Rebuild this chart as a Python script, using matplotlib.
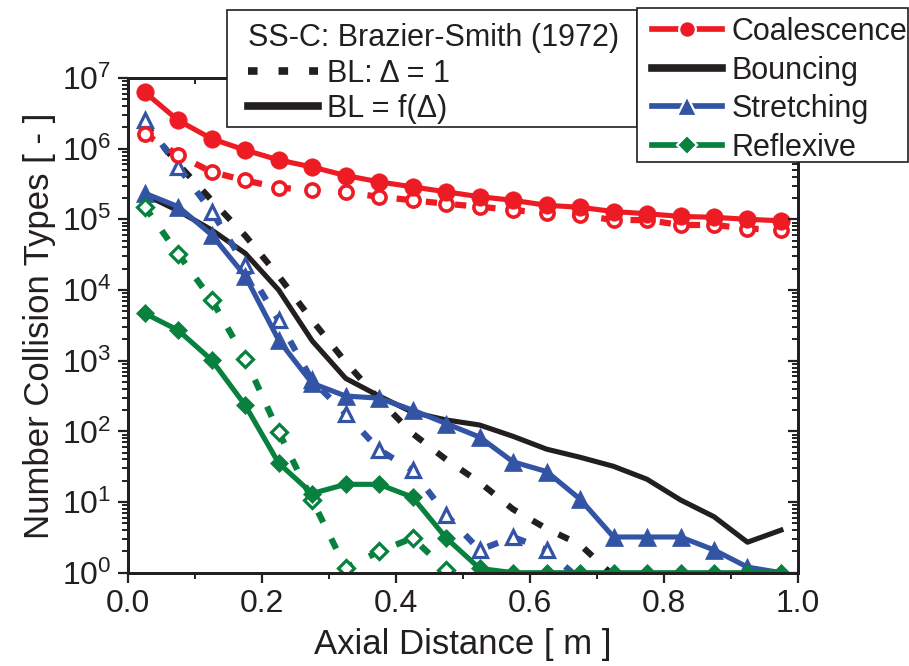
import numpy as np
import matplotlib
matplotlib.use("Agg")
import matplotlib.pyplot as plt
from matplotlib.lines import Line2D
from matplotlib.patches import Rectangle
from matplotlib.ticker import MultipleLocator, LogLocator, NullFormatter, LogFormatterSciNotation

plt.rcParams['font.family'] = ['Liberation Sans', 'DejaVu Sans']
plt.rcParams['mathtext.fontset'] = 'custom'
plt.rcParams['mathtext.rm'] = 'Liberation Sans'
plt.rcParams['mathtext.it'] = 'Liberation Sans:italic'
plt.rcParams['mathtext.default'] = 'regular'

# ---------------- data ----------------
axial_distance = [0.025, 0.075, 0.125, 0.175, 0.225, 0.275, 0.325, 0.375, 0.425, 0.475,
                  0.525, 0.575, 0.625, 0.675, 0.725, 0.775, 0.825, 0.875, 0.925, 0.975]

# BL = f(Delta)  (solid lines, filled markers)
coalescence_f = [6.31e6, 2.51e6, 1.38e6, 9.55e5, 6.92e5, 5.50e5, 4.17e5, 3.39e5, 2.88e5, 2.45e5,
                 2.09e5, 1.86e5, 1.58e5, 1.48e5, 1.29e5, 1.20e5, 1.10e5, 1.07e5, 1.00e5, 9.55e4]
bouncing_f = [2.24e5, 1.32e5, 7.08e4, 3.31e4, 1.00e4, 1.91e3, 562, 316, 186, 145,
              123, 85, 56, 43, 32, 21, 10.7, 6.2, 2.7, 4.0]
stretching_f = [2.34e5, 1.51e5, 6.03e4, 1.58e4, 1.95e3, 479, 316, 295, 200, 129,
                83, 37, 27, 11, 3.2, 3.2, 3.2, 2.1, 1.2, 1.0]
reflexive_f = [4.68e3, 2.69e3, 1.02e3, 234, 35.5, 13.2, 17.8, 17.8, 11.7, 3.1,
               1.15, 1.0, 1.0, 1.0, 1.0, 1.0, 1.0, 1.0, 1.0, 1.0]

# BL: Delta = 1  (dashed lines, open markers); nan = below the axis range
coalescence_1 = [1.62e6, 8.13e5, 4.68e5, 3.55e5, 2.82e5, 2.57e5, 2.40e5, 2.09e5, 1.86e5, 1.66e5,
                 1.51e5, 1.35e5, 1.23e5, 1.15e5, 9.77e4, 9.77e4, 8.32e4, 8.32e4, 7.41e4, 7.08e4]
bouncing_1 = [2.24e6, 6.03e5, 1.86e5, 5.89e4, 1.58e4, 3.72e3, 955, 282, 93, 40,
              19, 7.9, 4.2, 2.5, 0.9, np.nan, np.nan, np.nan, np.nan, np.nan]
stretching_1 = [2.51e6, 5.50e5, 1.29e5, 2.24e4, 3.72e3, 525, 178, 55, 28, 6.6,
                2.1, 3.2, 2.1, 0.8, np.nan, np.nan, np.nan, np.nan, np.nan, np.nan]
reflexive_1 = [1.51e5, 3.24e4, 7.24e3, 1.07e3, 98, 10.7, 1.17, 2.0, 3.1, 1.1,
               0.5, np.nan, np.nan, np.nan, np.nan, np.nan, np.nan, np.nan, np.nan, np.nan]

x_ticks = [0.0, 0.2, 0.4, 0.6, 0.8, 1.0]
x_tick_labels = ['0.0', '0.2', '0.4', '0.6', '0.8', '1.0']

legend1_title = 'SS-C: Brazier-Smith (1972)'
legend1_labels = ['BL: Δ = 1', 'BL = f(Δ)']
legend2_labels = ['Coalescence', 'Bouncing', 'Stretching', 'Reflexive']

# ---------------- style ----------------
RED = '#ED1C24'
BLACK = '#231F20'
BLUE = '#3354A5'
GREEN = '#08803E'
TXT = '#231F20'

W, H = 909, 666
fig = plt.figure(figsize=(W / 100, H / 100), dpi=100)
L, R, T, B = 128, 797.7, 78, 572.7
ax = fig.add_axes([L / W, 1 - B / H, (R - L) / W, (B - T) / H])

DASH = (0, (1.8, 2.9))
LW_SOLID = 3.7
LW_DASH = 4.5


def plot_pair(y_solid, y_dash, color, marker, ms_f, ms_o, mew_o):
    ax.plot(axial_distance, y_dash, color=color, lw=LW_DASH, linestyle=DASH,
            dash_capstyle='butt', marker=marker, ms=ms_o, mfc='white', mec=color,
            mew=mew_o)
    ax.plot(axial_distance, y_solid, color=color, lw=LW_SOLID, marker=marker,
            ms=ms_f, mfc=color, mec=color, mew=0.5)


ax.plot(axial_distance, bouncing_1, color=BLACK, lw=LW_DASH, linestyle=DASH,
        dash_capstyle='butt')
ax.plot(axial_distance, bouncing_f, color=BLACK, lw=LW_SOLID)
plot_pair(stretching_f, stretching_1, BLUE, '^', 12.5, 10.5, 2.3)
plot_pair(reflexive_f, reflexive_1, GREEN, 'D', 9.0, 8.3, 2.3)
plot_pair(coalescence_f, coalescence_1, RED, 'o', 12.5, 9.5, 2.6)

ax.set_yscale('log')
ax.set_xlim(0, 1.0)
ax.set_ylim(1, 1e7)
ax.set_xticks(x_ticks)
ax.set_xticklabels(x_tick_labels)
ax.xaxis.set_minor_locator(MultipleLocator(0.1))
ax.yaxis.set_major_locator(LogLocator(base=10, numticks=20))
ax.yaxis.set_minor_locator(LogLocator(base=10, subs=np.arange(2, 10), numticks=20))
ax.yaxis.set_minor_formatter(NullFormatter())
ax.yaxis.set_major_formatter(LogFormatterSciNotation())

for s in ax.spines.values():
    s.set_linewidth(2.0)
    s.set_color(TXT)
ax.tick_params(which='both', direction='out', top=False, right=False,
               colors=TXT, labelcolor=TXT, labelsize=23)
ax.tick_params(which='major', length=7, width=1.6, pad=5)
ax.tick_params(which='minor', length=4.5, width=1.4)

# mirrored inward ticks on top and right
axr = ax.twinx()
axr.set_yscale('log')
axr.set_ylim(1, 1e7)
axr.yaxis.set_major_locator(LogLocator(base=10, numticks=20))
axr.yaxis.set_minor_locator(LogLocator(base=10, subs=np.arange(2, 10), numticks=20))
axr.tick_params(which='both', direction='in', labelright=False, colors=TXT)
axr.tick_params(which='major', length=7, width=1.6)
axr.tick_params(which='minor', length=4.5, width=1.4)
axt = ax.twiny()
axt.set_xlim(0, 1.0)
axt.set_xticks(x_ticks)
axt.xaxis.set_minor_locator(MultipleLocator(0.1))
axt.tick_params(which='both', direction='in', labeltop=False, colors=TXT)
axt.tick_params(which='major', length=7, width=1.6)
axt.tick_params(which='minor', length=4.5, width=1.4)
for a in (axr, axt):
    for s in a.spines.values():
        s.set_linewidth(2.0)
        s.set_color(TXT)

ax.set_xlabel('Axial Distance [ m ]', fontsize=25, color=TXT, labelpad=6)
ax.set_ylabel('Number Collision Types [ - ]', fontsize=25, color=TXT, labelpad=4)

# ---------------- legends ----------------
LEG_FS = 22
# frames (figure pixel coordinates)
fig.patches.append(Rectangle((226.7 / W, 1 - 126.7 / H), (636.7 - 226.7) / W, (126.7 - 10) / H,
                             transform=fig.transFigure, fill=True, facecolor='white',
                             edgecolor=TXT, lw=1.2, zorder=5))
fig.patches.append(Rectangle((636.7 / W, 1 - 161.7 / H), (908 - 636.7) / W, (161.7 - 8.3) / H,
                             transform=fig.transFigure, fill=True, facecolor='white',
                             edgecolor=TXT, lw=1.2, zorder=5))

h1 = [Line2D([], [], color=BLACK, lw=5.5, linestyle=(0, (1.25, 2.75)), dash_capstyle='butt'),
      Line2D([], [], color=BLACK, lw=5.5)]
leg1 = fig.legend(h1, legend1_labels, title=legend1_title, loc='upper left',
                  bbox_to_anchor=(248 / W, 1 - 23 / H), bbox_transform=fig.transFigure,
                  frameon=False, fontsize=LEG_FS, title_fontsize=LEG_FS, alignment='left',
                  borderpad=0, borderaxespad=0, handlelength=2.3, handletextpad=0.3,
                  labelspacing=0.18)
leg1.set_zorder(6)
for t in leg1.get_texts():
    t.set_color(TXT)
leg1.get_title().set_color(TXT)

h2 = [Line2D([], [], color=RED, lw=LW_SOLID + 0.4, marker='o', ms=12, mfc=RED, mec='white', mew=1.6),
      Line2D([], [], color=BLACK, lw=5.5),
      Line2D([], [], color=BLUE, lw=LW_SOLID + 0.4, marker='^', ms=14, mfc=BLUE, mec='white', mew=1.6),
      Line2D([], [], color=GREEN, lw=LW_SOLID + 0.4, marker='D', ms=10, mfc=GREEN, mec='white', mew=1.6)]
leg2 = fig.legend(h2, legend2_labels, loc='upper left',
                  bbox_to_anchor=(651.7 / W, 1 - 17 / H), bbox_transform=fig.transFigure,
                  frameon=False, fontsize=LEG_FS, borderpad=0, borderaxespad=0,
                  handlelength=2.3, handletextpad=0.3, labelspacing=0.28)
leg2.set_zorder(6)
for t in leg2.get_texts():
    t.set_color(TXT)

fig.savefig('out.png', dpi=100)
